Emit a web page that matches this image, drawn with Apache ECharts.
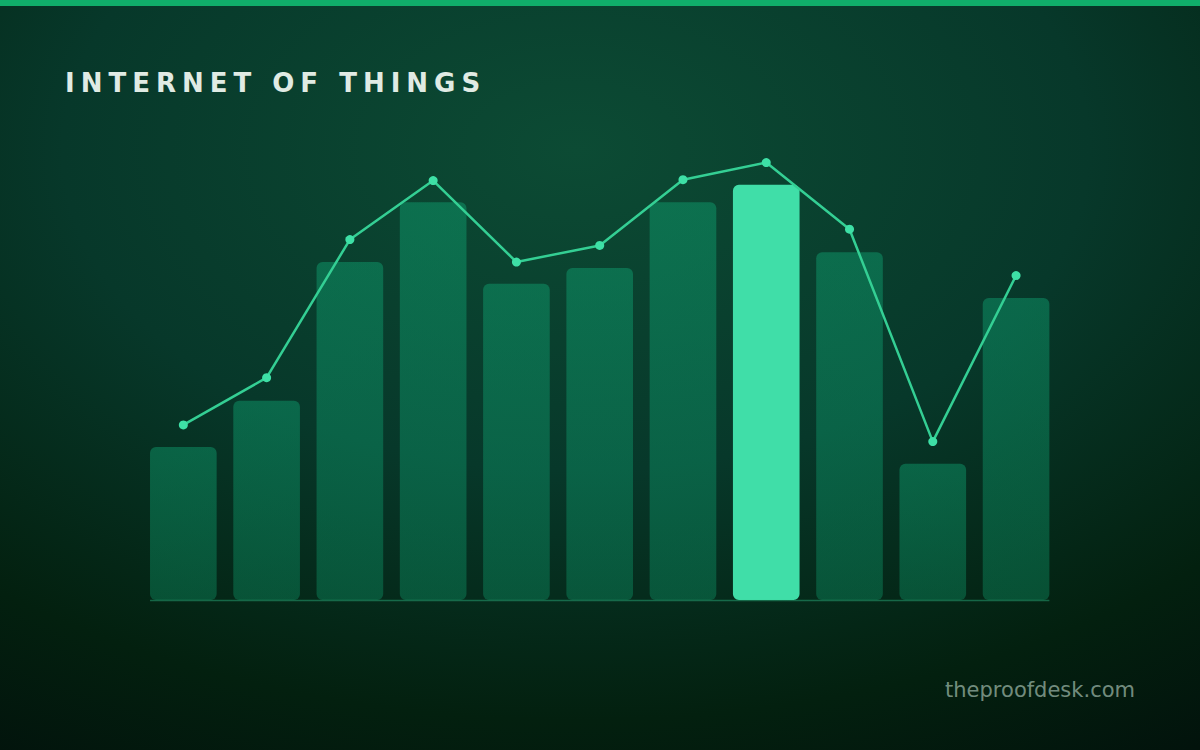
<!DOCTYPE html>
<html>
<head>
<meta charset="utf-8">
<script src="https://cdn.jsdelivr.net/npm/echarts@6/dist/echarts.min.js"></script>
<style>
  html, body { margin: 0; padding: 0; background: #03140e; }
  #chart { width: 1200px; height: 750px; }
</style>
</head>
<body>
<div id="chart"></div>
<script>
const titleText = 'INTERNET OF THINGS';
const sourceText = 'theproofdesk.com';
const categories = ['1', '2', '3', '4', '5', '6', '7', '8', '9', '10', '11'];
const barValues = [34.0, 44.3, 75.1, 88.4, 70.3, 73.8, 88.4, 92.3, 77.3, 30.3, 67.1];
const lineValues = [38.9, 49.4, 80.1, 93.2, 75.1, 78.8, 93.4, 97.2, 82.4, 35.2, 72.1];
const highlightIndex = 7;

const chart = echarts.init(document.getElementById('chart'), null, { renderer: 'svg', width: 1200, height: 750 });

const barFill = new echarts.graphic.LinearGradient(0, 0, 0, 1, [
  { offset: 0, color: 'rgba(16,185,129,0.37)' },
  { offset: 1, color: 'rgba(16,185,129,0.30)' }
]);

const option = {
  animation: false,
  backgroundColor: new echarts.graphic.RadialGradient(0.48, 0.2, 0.95, [
    { offset: 0, color: '#0c4b34' },
    { offset: 0.45, color: '#07382a' },
    { offset: 0.8, color: '#03200f' },
    { offset: 1, color: '#02130c' }
  ]),
  title: {
    text: titleText,
    left: 60,
    top: 65,
    textStyle: {
      color: '#e0ebe4',
      fontFamily: 'DejaVu Sans',
      fontWeight: 'bold',
      fontSize: 26
    }
  },
  grid: { left: 141.7, right: 142.3, top: 150, bottom: 150 },
  xAxis: {
    type: 'category',
    data: categories,
    boundaryGap: true,
    axisLine: { show: false },
    axisTick: { show: false },
    axisLabel: { show: false },
    splitLine: { show: false }
  },
  yAxis: {
    type: 'value',
    min: 0,
    max: 100,
    show: false,
    splitLine: { show: false }
  },
  series: [
    {
      type: 'bar',
      data: barValues.map((v, i) => i === highlightIndex
        ? { value: v, itemStyle: { color: '#40dea8' } }
        : v),
      barWidth: '80%',
      itemStyle: { color: barFill, borderRadius: 6 },
      z: 2
    },
    {
      type: 'line',
      data: lineValues,
      symbol: 'circle',
      symbolSize: 9,
      lineStyle: { color: '#34cf94', width: 2.5 },
      itemStyle: { color: '#3ee0a6' },
      z: 3
    }
  ],
  graphic: []
};

chart.setOption(option);

// baseline from first bar's left edge to last bar's right edge, via axis scale
const bandW = chart.convertToPixel({ xAxisIndex: 0 }, 1) - chart.convertToPixel({ xAxisIndex: 0 }, 0);
const x0 = chart.convertToPixel({ xAxisIndex: 0 }, 0) - bandW * 0.4;
const x1 = chart.convertToPixel({ xAxisIndex: 0 }, categories.length - 1) + bandW * 0.4;
const y0 = chart.convertToPixel({ yAxisIndex: 0 }, 0);

chart.setOption({
  graphic: [
    { type: 'rect', left: 0, top: 0, shape: { width: 1200, height: 6 }, style: { fill: '#10ae6a' }, z: 10 },
    { type: 'line', shape: { x1: x0, y1: y0 + 0.5, x2: x1, y2: y0 + 0.5 }, style: { stroke: 'rgba(52,211,153,0.38)', lineWidth: 1.5 }, z: 5 },
    { type: 'text', right: 65, top: 679, style: { text: sourceText, fill: 'rgba(200,225,212,0.58)', font: '21px "DejaVu Sans"' }, z: 10 }
  ]
});

function applySpacing() {
  document.querySelectorAll('#chart svg text').forEach(t => {
    if (t.textContent === titleText) {
      t.setAttribute('letter-spacing', '6px');
      t.style.letterSpacing = '6px';
    }
  });
}
chart.getZr().flush && chart.getZr().flush();
applySpacing();
chart.on('finished', applySpacing);
</script>
</body>
</html>
